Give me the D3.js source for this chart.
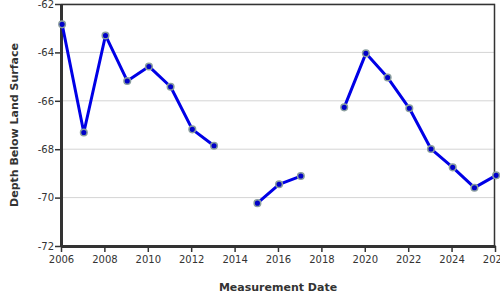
<!DOCTYPE html>
<html>
<head>
<meta charset="utf-8">
<script src="https://cdn.jsdelivr.net/npm/d3@7"></script>
<style>
  body { margin: 0; background: #fff; }
  text { font-family: "DejaVu Sans", Verdana, sans-serif; }
</style>
</head>
<body>
<div id="chart"></div>
<script>
// measurement years (null depth = no measurement that year)
const years = [2006, 2007, 2008, 2009, 2010, 2011, 2012, 2013, 2014, 2015, 2016,
  2017, 2018, 2019, 2020, 2021, 2022, 2023, 2024, 2025, 2026];
const depths = [-62.84, -67.31, -63.3, -65.18, -64.58, -65.42, -67.18, -67.86, null,
  -70.23, -69.45, -69.11, null, -66.27, -64.04, -65.04, -66.31, -67.99, -68.75,
  -69.59, -69.08];
const yTicks = [-62, -64, -66, -68, -70, -72];

const data = years.map((y, i) => ({ date: new Date(y, 0, 20), depth: depths[i] }));

const margin = { top: 4, right: 5, bottom: 54, left: 61 };
const width = 500 - margin.left - margin.right;
const height = 300 - margin.top - margin.bottom;

const svg = d3.select("#chart").append("svg")
  .attr("width", 500)
  .attr("height", 300)
  .append("g")
  .attr("transform", "translate(" + margin.left + "," + margin.top + ")");

const x = d3.scaleTime()
  .domain([new Date(2006, 0, 1), new Date(2026, 0, 1)])
  .range([0, width]);
const y = d3.scaleLinear().domain([-62, -72]).range([0, height]);

// grid lines
svg.append("g")
  .selectAll("line")
  .data(yTicks)
  .enter()
  .append("line")
  .attr("x1", 0)
  .attr("x2", width)
  .attr("y1", (d) => y(d))
  .attr("y2", (d) => y(d))
  .attr("stroke", "#d4d4d4")
  .attr("stroke-width", 1);

// frame (top + right)
svg.append("path")
  .attr("d", "M0,0.5H" + (width - 0.5) + "V" + height)
  .attr("fill", "none")
  .attr("stroke", "#333")
  .attr("stroke-width", 1.5);

// axes
const xAxis = svg.append("g")
  .attr("transform", "translate(0," + height + ")")
  .call(d3.axisBottom(x).ticks(d3.timeYear.every(2)).tickFormat(d3.timeFormat("%Y"))
    .tickSize(6).tickSizeOuter(0));
const yAxis = svg.append("g")
  .call(d3.axisLeft(y).tickValues(yTicks).tickFormat((d) => String(d))
    .tickSize(6).tickSizeOuter(0));

[xAxis, yAxis].forEach((g) => {
  g.select(".domain").attr("stroke", "#333").attr("stroke-width", 3);
  g.selectAll(".tick line").attr("stroke", "#333").attr("stroke-width", 1.5);
  g.selectAll(".tick text")
    .attr("fill", "#333")
    .style("font-size", "10px")
    .style("font-family", "'DejaVu Sans', Verdana, sans-serif");
});
yAxis.selectAll(".tick text").attr("x", -7);
xAxis.selectAll(".tick text").attr("y", 10);

// line with gaps
const line = d3.line()
  .defined((d) => d.depth !== null)
  .x((d) => x(d.date))
  .y((d) => y(d.depth));

svg.append("path")
  .datum(data)
  .attr("d", line)
  .attr("fill", "none")
  .attr("stroke", "#0000e6")
  .attr("stroke-width", 3)
  .attr("stroke-linejoin", "round");

svg.selectAll(".dot")
  .data(data.filter((d) => d.depth !== null))
  .enter()
  .append("circle")
  .attr("class", "dot")
  .attr("cx", (d) => x(d.date))
  .attr("cy", (d) => y(d.depth))
  .attr("r", 3.3)
  .attr("fill", "#0000c8")
  .attr("stroke", "#8a9e9e")
  .attr("stroke-width", 1.5);

// axis titles
svg.append("text")
  .attr("x", width / 2)
  .attr("y", height + 45)
  .attr("text-anchor", "middle")
  .attr("fill", "#333")
  .style("font-size", "11px")
  .style("font-weight", "bold")
  .text("Measurement Date");

svg.append("text")
  .attr("transform", "rotate(-90)")
  .attr("x", -height / 2)
  .attr("y", -43)
  .attr("text-anchor", "middle")
  .attr("fill", "#333")
  .style("font-size", "11px")
  .style("font-weight", "bold")
  .text("Depth Below Land Surface");
</script>
</body>
</html>
